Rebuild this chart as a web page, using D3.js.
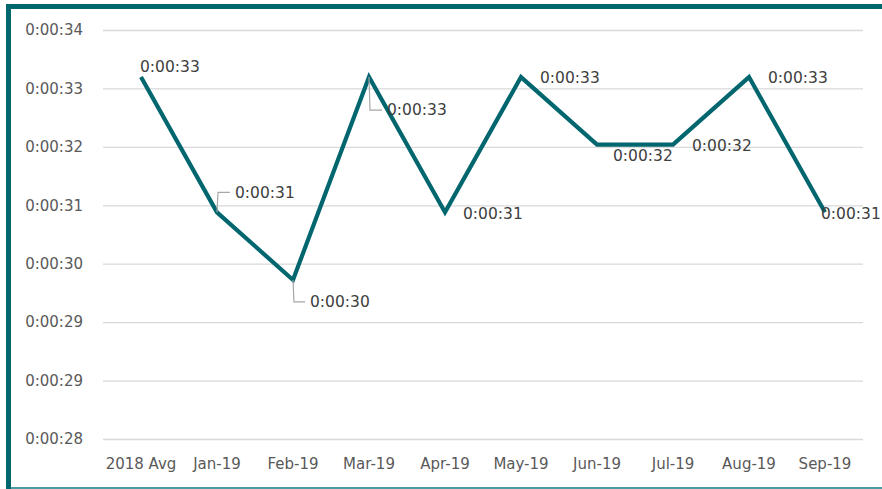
<!DOCTYPE html>
<html>
<head>
<meta charset="utf-8">
<script src="https://cdn.jsdelivr.net/npm/d3@7"></script>
<style>
  html, body { margin: 0; padding: 0; background: #fff; }
  svg { display: block; }
</style>
</head>
<body>
<svg id="chart" width="882" height="489"></svg>
<script>
// categories and values (seconds)
const categories = ["2018 Avg", "Jan-19", "Feb-19", "Mar-19", "Apr-19", "May-19", "Jun-19", "Jul-19", "Aug-19", "Sep-19"];
const avgSeconds = [33, 31, 30, 33, 31, 33, 32, 32, 33, 31];
const dataLabels = ["0:00:33", "0:00:31", "0:00:30", "0:00:33", "0:00:31", "0:00:33", "0:00:32", "0:00:32", "0:00:33", "0:00:31"];

// excel-style time axis: 0.00032 .. 0.00039 days, step 0.00001 days
const yTickValues = [27.648, 28.512, 29.376, 30.24, 31.104, 31.968, 32.832, 33.696];
const yTickLabels = ["0:00:28", "0:00:29", "0:00:29", "0:00:30", "0:00:31", "0:00:32", "0:00:33", "0:00:34"];

// label placement relative to the point (layout only)
const labelOffsets = [
  { dx: -1, dy: -10 },
  { dx: 18, dy: -20, leader: true },
  { dx: 17, dy: 22, leader: true },
  { dx: 18, dy: 33, leader: true },
  { dx: 18, dy: 1 },
  { dx: 19, dy: 1 },
  { dx: 16, dy: 11 },
  { dx: 19, dy: 1 },
  { dx: 19, dy: 1 },
  { dx: -4, dy: 1 }
];

const svg = d3.select("#chart");
const W = 882, H = 489;
const margin = { top: 30, right: 19, bottom: 50, left: 103 };
const teal = "#02666f";
const font = "'DejaVu Sans', sans-serif";

const x = d3.scaleBand().domain(categories).range([margin.left, W - margin.right]).padding(0);
const y = d3.scaleLinear().domain([yTickValues[0], yTickValues[yTickValues.length - 1]])
  .range([H - margin.bottom, margin.top]);
const cx = (d) => x(d) + x.bandwidth() / 2;

// frame
svg.append("rect").attr("x", 6).attr("y", 4).attr("width", W - 6).attr("height", 5).attr("fill", teal);
svg.append("rect").attr("x", 6).attr("y", 4).attr("width", 5).attr("height", H - 4).attr("fill", teal);
svg.append("rect").attr("x", 11).attr("y", 487).attr("width", W - 11).attr("height", 2).attr("fill", "#4a9ea3");

// gridlines + y labels
const yAxis = svg.append("g").attr("transform", `translate(${margin.left},0)`)
  .call(d3.axisLeft(y).tickValues(yTickValues)
    .tickSize(-(W - margin.left - margin.right))
    .tickFormat((d, i) => yTickLabels[i]));
yAxis.select(".domain").remove();
yAxis.selectAll(".tick line").attr("stroke", "#d9d9d9").attr("stroke-width", 1.3);
yAxis.selectAll(".tick text")
  .attr("x", -20)
  .attr("fill", "#595959")
  .attr("font-family", font)
  .attr("font-size", 15);

// x labels
const xAxis = svg.append("g").attr("transform", `translate(0,${H - margin.bottom})`)
  .call(d3.axisBottom(x).tickSize(0));
xAxis.select(".domain").remove();
xAxis.selectAll(".tick text")
  .attr("y", 19)
  .attr("fill", "#595959")
  .attr("font-family", font)
  .attr("font-size", 15);

// line
const pts = categories.map((c, i) => ({ c, v: avgSeconds[i], label: dataLabels[i], off: labelOffsets[i] }));
svg.append("path")
  .datum(pts)
  .attr("fill", "none")
  .attr("stroke", teal)
  .attr("stroke-width", 4.2)
  .attr("stroke-linejoin", "miter")
  .attr("d", d3.line().x((d) => cx(d.c)).y((d) => y(d.v)));

// leader lines
svg.append("g").selectAll("path")
  .data(pts.filter((d) => d.off.leader))
  .join("path")
  .attr("fill", "none")
  .attr("stroke", "#a6a6a6")
  .attr("stroke-width", 1.2)
  .attr("d", (d) => {
    const px = cx(d.c), py = y(d.v);
    const ly = py + d.off.dy;
    return `M${px},${py}L${px + 1},${ly}L${px + d.off.dx - 5},${ly}`;
  });

// data labels
svg.append("g").selectAll("text")
  .data(pts)
  .join("text")
  .attr("x", (d) => cx(d.c) + d.off.dx)
  .attr("y", (d) => y(d.v) + d.off.dy)
  .attr("dy", "0.35em")
  .attr("fill", "#404040")
  .attr("font-family", font)
  .attr("font-size", 15.5)
  .text((d) => d.label);
</script>
</body>
</html>
